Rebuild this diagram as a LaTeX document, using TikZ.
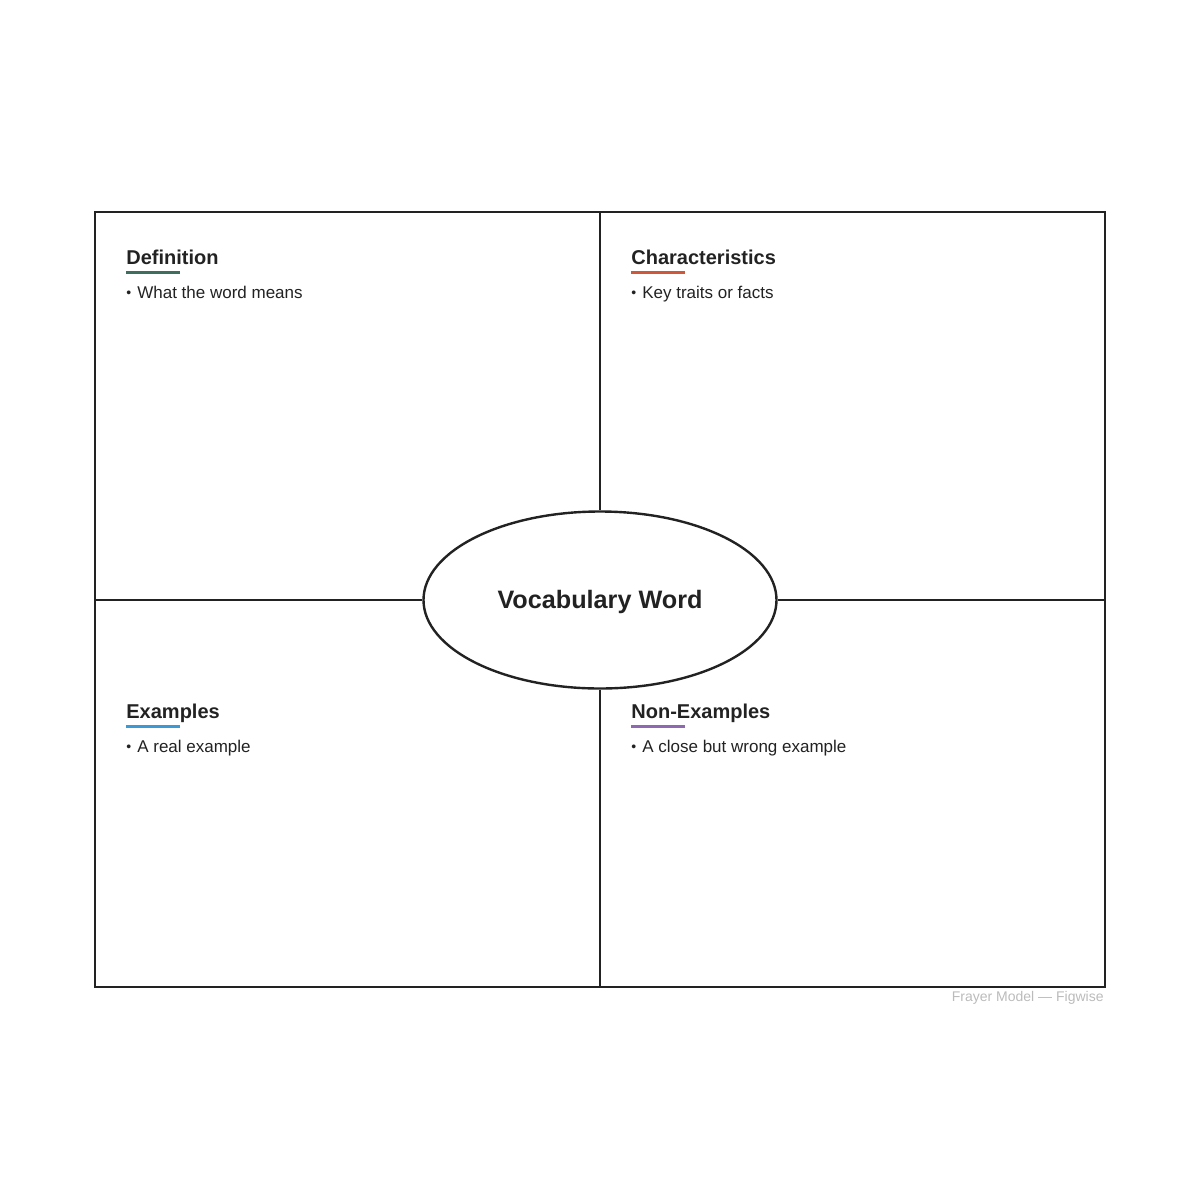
\documentclass[tikz,border=0pt]{standalone}
\usepackage{fontspec}
\setmainfont{Liberation Sans}
\usetikzlibrary{shapes.geometric}
\definecolor{ink}{HTML}{222222}
\definecolor{defgreen}{HTML}{3E6E5E}
\definecolor{charred}{HTML}{D0573A}
\definecolor{exblue}{HTML}{3B9AD6}
\definecolor{nonpurple}{HTML}{8E68B0}
\definecolor{footgray}{HTML}{BBBBBB}
\newcommand{\smallbullet}{\raisebox{0.3pt}{\fontsize{7}{7}\selectfont•}\hspace{3pt}}
\tikzset{
  heading/.style={anchor=base west,inner sep=0pt,font=\bfseries\fontsize{10}{12}\selectfont,text=ink},
  bodytext/.style={anchor=base west,inner sep=0pt,font=\fontsize{8.5}{10}\selectfont,text=ink},
  rule/.style={line width=1.5pt,line cap=butt},
  divider/.style={draw=ink,line width=0.75pt}
}
\begin{document}
\begin{tikzpicture}[x=0.5pt,y=-0.5pt]
\useasboundingbox (0,0) rectangle (1200,1200);

\coordinate (nw) at (95,212);
\coordinate (se) at (1105,987);
\coordinate (top) at (600,212);
\coordinate (bottom) at (600,987);
\coordinate (left) at (95,600);
\coordinate (right) at (1105,600);

\node[ellipse,draw=ink,line width=1.2pt,minimum width=176.5pt,minimum height=88.5pt,inner sep=0pt] (word) at (600,600) {};
\node[inner sep=0pt,font=\bfseries\fontsize{12.6}{15}\selectfont,text=ink] (wordtext) at (600,602) {Vocabulary Word};

\draw[divider] (top) -- (word.north);
\draw[divider] (word.south) -- (bottom);
\draw[divider] (left) -- (word.west);
\draw[divider] (word.east) -- (right);
\draw[draw=ink,line width=1pt] (nw) rectangle (se);

% quadrant headings
\node[heading] (def) at (126,264) {Definition};
\draw[rule,defgreen] (126,272) -- (180,272);
\node[bodytext] (defitem) at (126,298) {\smallbullet What the word means};

\node[heading] (char) at (631,264) {Characteristics};
\draw[rule,charred] (631,272) -- (685,272);
\node[bodytext] (charitem) at (631,298) {\smallbullet Key traits or facts};

\node[heading] (ex) at (126,718) {Examples};
\draw[rule,exblue] (126,726) -- (180,726);
\node[bodytext] (exitem) at (126,752) {\smallbullet A real example};

\node[heading] (nonex) at (631,718) {Non-Examples};
\draw[rule,nonpurple] (631,726) -- (685,726);
\node[bodytext] (nonexitem) at (631,752) {\smallbullet A close but wrong example};

\node[anchor=base east,inner sep=0pt,font=\fontsize{7}{8}\selectfont,text=footgray] (foot) at (1104,1001) {Frayer Model — Figwise};
\end{tikzpicture}
\end{document}
